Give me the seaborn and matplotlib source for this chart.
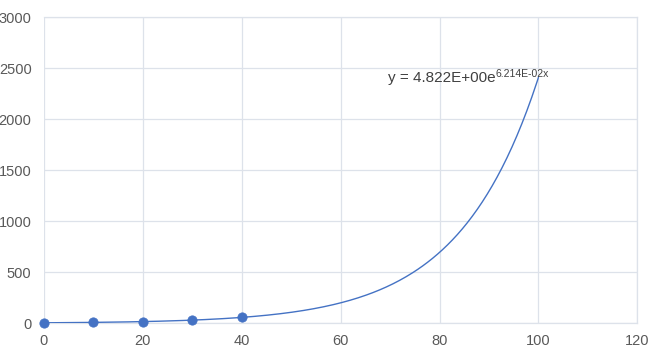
import numpy as np
import pandas as pd
import seaborn as sns
import matplotlib
matplotlib.use("Agg")
import matplotlib.pyplot as plt

x_vals = [0, 10, 20, 30, 40]
y_vals = [5, 9, 17, 31, 58]
trend_a = 4.822
trend_b = 0.06214
trend_x_max = 100
x_ticks = [0, 20, 40, 60, 80, 100, 120]
y_ticks = [0, 500, 1000, 1500, 2000, 2500, 3000]
eq_main = "y = 4.822E+00e"
eq_exp = "6.214E-02x"

sns.set_style("white")
plt.rcParams['font.family'] = ['Liberation Sans', 'DejaVu Sans']

fig = plt.figure(figsize=(6.57, 3.51), dpi=100)
ax = fig.add_axes([44/657, (351-323.3)/351, 593.3/657, 306/351])

df = pd.DataFrame({"x": x_vals, "y": y_vals})
tx = np.linspace(0, trend_x_max, 300)
tdf = pd.DataFrame({"x": tx, "y": trend_a * np.exp(trend_b * tx)})
sns.lineplot(data=tdf, x="x", y="y", ax=ax, color="#4472C4", linewidth=1.0, zorder=3)
sns.scatterplot(data=df, x="x", y="y", ax=ax, color="#4472C4", s=45,
                edgecolor="#4472C4", zorder=4, clip_on=False)

ax.set_xlim(0, 120)
ax.set_ylim(0, 3000)
ax.set_xticks(x_ticks)
ax.set_yticks(y_ticks)
ax.set_xlabel("")
ax.set_ylabel("")
ax.grid(True, color="#dde2ea", linewidth=0.9)
ax.set_axisbelow(True)
for s in ["top", "right", "left", "bottom"]:
    ax.spines[s].set_color("#dde2ea")
    ax.spines[s].set_linewidth(0.9)
ax.spines["left"].set_visible(False)
ax.tick_params(axis="both", length=0, labelsize=10.5, labelcolor="#595959")
ax.tick_params(axis="x", pad=8)
ax.tick_params(axis="y", pad=9)

t = ax.text(69.6, 2405, eq_main, fontsize=11, color="#404040", va="center", ha="left")
ax.annotate(eq_exp, xy=(1, 0.45), xycoords=t, fontsize=7.5, color="#404040",
            va="bottom", ha="left")

fig.savefig("out.png", dpi=100)
